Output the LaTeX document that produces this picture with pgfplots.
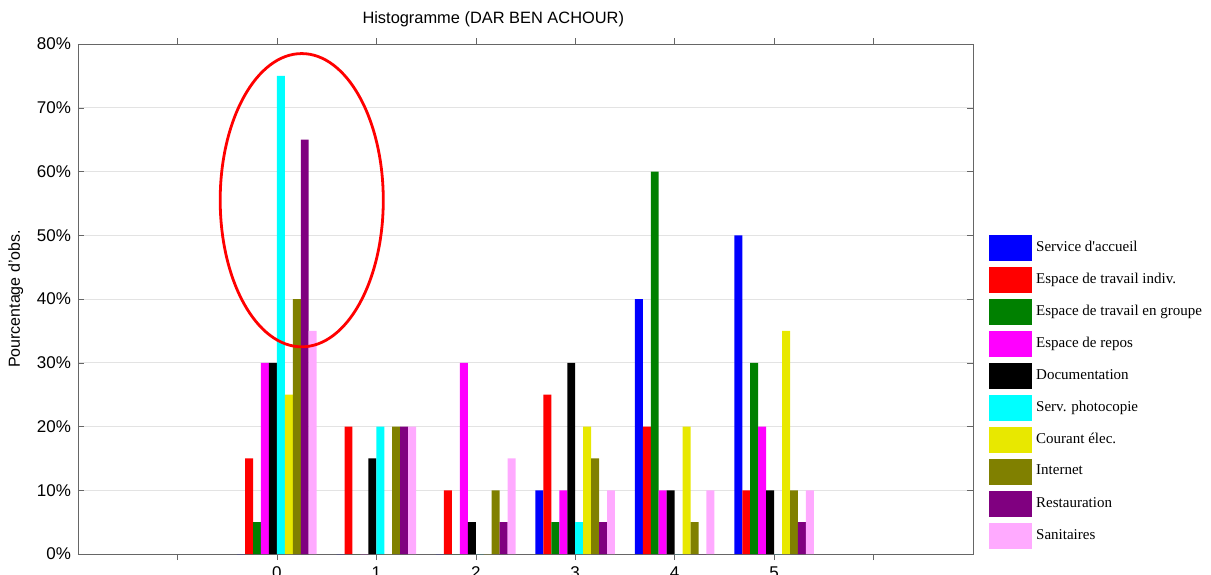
\documentclass[border=0pt]{standalone}
\usepackage{pgfplots}
\pgfplotsset{compat=1.18}
\usepackage{fontspec}
\setmainfont{Liberation Sans}
\newfontfamily\legfont{Liberation Serif}
\usetikzlibrary{calc}

\definecolor{cBlue}{RGB}{0,0,255}
\definecolor{cRed}{RGB}{255,0,0}
\definecolor{cGreen}{RGB}{0,128,0}
\definecolor{cMag}{RGB}{255,0,255}
\definecolor{cBlack}{RGB}{0,0,0}
\definecolor{cCyan}{RGB}{0,255,255}
\definecolor{cYel}{RGB}{232,232,0}
\definecolor{cOlive}{RGB}{128,128,0}
\definecolor{cPurp}{RGB}{128,0,128}
\definecolor{cPink}{RGB}{255,170,255}

\begin{document}
\begin{tikzpicture}
\begin{axis}[
  name=ax,
  scale only axis,
  width=447.5pt, height=255pt,
  xmin=-2, xmax=7,
  ymin=0, ymax=80,
  ybar=0pt, bar width=0.08,
  xtick={-1,0,1,2,3,4,5,6},
  xticklabels={,0,1,2,3,4,5,},
  ytick={0,10,...,80},
  yticklabel={\pgfmathprintnumber{\tick}\%},
  /pgf/number format/assume math mode=true,
  ymajorgrids, major grid style={gray!22},
  axis line style={gray!80!black},
  tick style={gray!80!black},
  major tick length=3pt,
  ticklabel style={font=\fontsize{8.5}{10}\selectfont},
  ylabel={Pourcentage d'obs.},
  ylabel style={font=\fontsize{8}{10}\selectfont},
  title={Histogramme (DAR BEN ACHOUR)},
  title style={font=\fontsize{8.2}{10}\selectfont, at={(0.464,1)}, anchor=south, yshift=-1pt},
  legend style={at={(1.011,0.635)}, anchor=north west, draw=none, fill=none,
    font=\legfont\fontsize{7.5}{8.5}\selectfont, row sep=3pt},
  legend cell align=left,
  legend image code/.code={\path[#1] (0pt,-6.5pt) rectangle (21.5pt,6.5pt);},
]
\addplot[fill=cBlue, draw=none] coordinates {(0,0)(1,0)(2,0)(3,10)(4,40)(5,50)};
\addplot[fill=cRed, draw=none] coordinates {(0,15)(1,20)(2,10)(3,25)(4,20)(5,10)};
\addplot[fill=cGreen, draw=none] coordinates {(0,5)(1,0)(2,0)(3,5)(4,60)(5,30)};
\addplot[fill=cMag, draw=none] coordinates {(0,30)(1,0)(2,30)(3,10)(4,10)(5,20)};
\addplot[fill=cBlack, draw=none] coordinates {(0,30)(1,15)(2,5)(3,30)(4,10)(5,10)};
\addplot[fill=cCyan, draw=none] coordinates {(0,75)(1,20)(2,0)(3,5)(4,0)(5,0)};
\addplot[fill=cYel, draw=none] coordinates {(0,25)(1,0)(2,0)(3,20)(4,20)(5,35)};
\addplot[fill=cOlive, draw=none] coordinates {(0,40)(1,20)(2,10)(3,15)(4,5)(5,10)};
\addplot[fill=cPurp, draw=none] coordinates {(0,65)(1,20)(2,5)(3,5)(4,0)(5,5)};
\addplot[fill=cPink, draw=none] coordinates {(0,35)(1,20)(2,15)(3,10)(4,10)(5,10)};
\legend{Service d'accueil, Espace de travail indiv., Espace de travail en groupe,
  Espace de repos, Documentation, Serv. photocopie, Courant élec., Internet,
  Restauration, Sanitaires}
\draw[red, line width=1.4pt] (axis cs:0.25,55.5) ellipse [x radius=0.82, y radius=23];
\end{axis}
\pgfresetboundingbox
\path ($(ax.south west)+(-39pt,-10pt)$) rectangle ++(605.5pt,287pt);
\end{tikzpicture}
\end{document}
